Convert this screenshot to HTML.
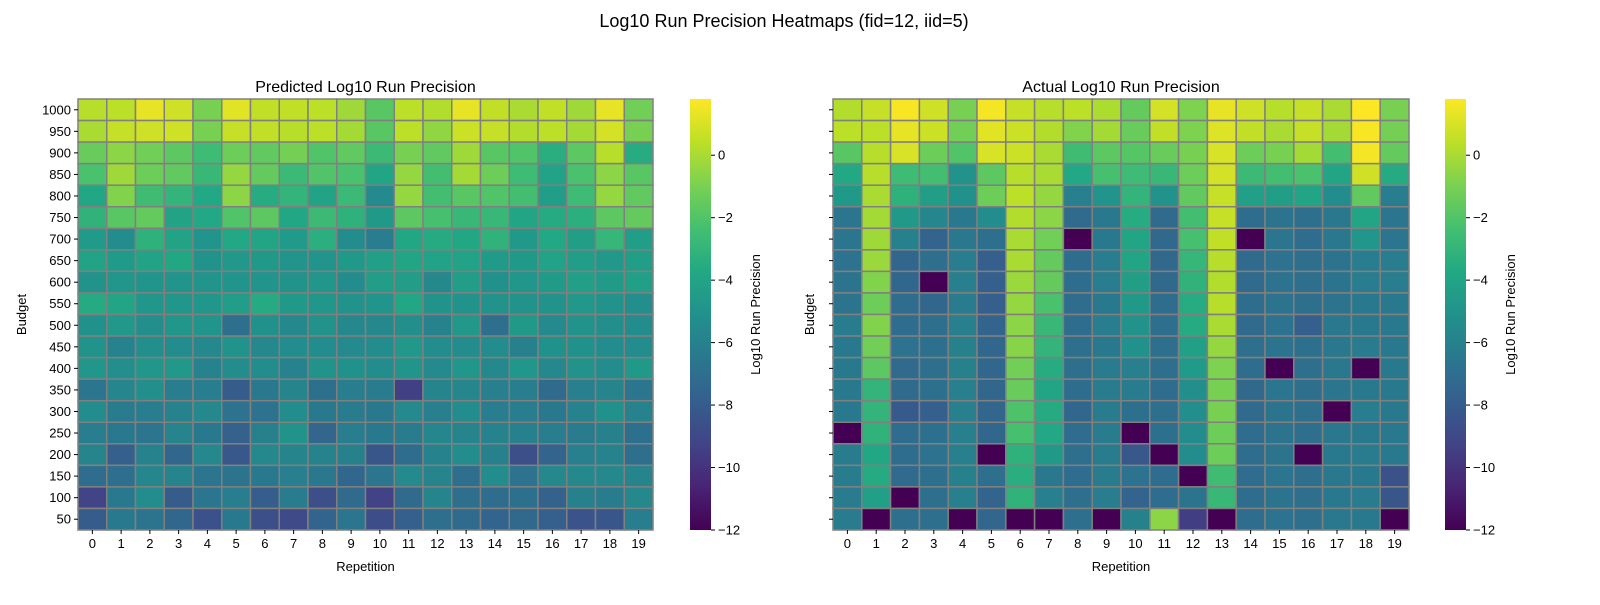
<!DOCTYPE html>
<html><head><meta charset="utf-8"><style>
body{margin:0;background:#fff}
svg text{font-family:"Liberation Sans","DejaVu Sans",sans-serif;fill:#000}
</style></head><body>
<svg id="fig" width="1600" height="600" xmlns="http://www.w3.org/2000/svg">
<text x="784" y="27" font-size="18" text-anchor="middle">Log10 Run Precision Heatmaps (fid=12, iid=5)</text>
</svg>
<script>
const budgets=[1000,950,900,850,800,750,700,650,600,550,500,450,400,350,300,250,200,150,100,50];
const reps=[0,1,2,3,4,5,6,7,8,9,10,11,12,13,14,15,16,17,18,19];
const cbTicks=[0,-2,-4,-6,-8,-10,-12];
const vmin=-12, vmax=1.8;
const predicted=[
[0.3,0.4,1.3,0.8,-1.0,1.2,0.5,0.5,0.4,-0.2,-1.8,0.4,0.2,1.3,0.5,0.0,0.5,-0.2,1.3,-1.2],
[0.0,0.6,0.8,0.8,-1.0,0.6,0.5,0.3,0.4,-0.1,-1.8,0.4,-0.5,0.7,0.6,0.2,0.4,-0.1,0.9,-1.0],
[-1.4,-0.6,-1.2,-1.7,-2.6,-1.3,-1.6,-1.1,-2.0,-1.6,-2.7,-1.0,-1.6,-0.2,-1.8,-2.0,-3.4,-1.7,0.3,-3.5],
[-2.2,-0.2,-1.3,-1.6,-2.8,-0.4,-1.5,-2.7,-2.0,-2.2,-3.9,-0.4,-2.4,-0.1,-1.3,-2.6,-4.1,-2.2,-0.6,-1.8],
[-3.8,-0.8,-2.5,-3.0,-3.7,-0.6,-3.5,-3.0,-4.0,-2.7,-5.5,-0.4,-2.4,-1.8,-2.0,-2.4,-4.4,-2.6,-0.4,-1.6],
[-3.1,-1.8,-1.5,-4.0,-3.7,-2.0,-1.7,-3.8,-2.7,-3.2,-4.6,-1.7,-2.3,-2.8,-2.8,-3.9,-3.6,-3.3,-1.7,-1.5],
[-4.5,-5.3,-3.2,-4.0,-4.9,-3.7,-3.9,-4.5,-3.3,-5.3,-6.2,-3.8,-3.6,-3.8,-3.1,-4.6,-3.7,-4.3,-2.9,-4.4],
[-4.0,-4.5,-4.0,-3.8,-5.0,-4.7,-4.6,-4.9,-4.9,-4.6,-4.2,-3.9,-4.1,-4.1,-4.5,-4.6,-4.1,-4.4,-4.7,-4.4],
[-5.0,-4.8,-4.9,-4.9,-4.9,-4.9,-4.9,-5.0,-4.8,-5.3,-4.4,-4.4,-5.6,-4.4,-5.1,-4.8,-4.5,-4.2,-4.5,-4.2],
[-3.6,-3.9,-4.8,-4.8,-4.8,-4.4,-3.6,-4.6,-4.8,-5.0,-4.9,-3.8,-5.0,-5.0,-5.0,-5.0,-5.0,-4.7,-5.0,-5.2],
[-5.1,-4.7,-5.2,-4.8,-4.9,-7.0,-5.1,-5.6,-5.0,-5.6,-5.6,-5.2,-5.9,-4.7,-7.0,-4.6,-5.5,-5.0,-5.2,-5.4],
[-5.0,-5.9,-5.2,-5.3,-5.6,-5.0,-5.6,-5.3,-5.3,-5.5,-5.4,-4.7,-5.4,-5.4,-5.4,-6.0,-5.1,-5.1,-5.3,-5.4],
[-4.8,-5.2,-4.8,-4.7,-5.9,-5.4,-5.4,-5.9,-5.0,-5.1,-5.4,-4.9,-5.5,-4.8,-5.6,-4.8,-5.6,-5.0,-5.4,-4.6],
[-6.6,-5.7,-5.2,-6.2,-6.2,-8.0,-6.5,-5.8,-6.9,-6.2,-6.3,-9.4,-5.8,-5.7,-6.1,-6.2,-7.2,-6.1,-5.8,-6.6],
[-5.3,-6.3,-6.2,-5.9,-5.6,-6.8,-6.8,-5.4,-6.4,-6.3,-6.4,-5.5,-6.1,-5.4,-6.2,-6.2,-6.4,-5.9,-5.1,-5.9],
[-6.2,-6.4,-6.6,-5.8,-6.4,-7.7,-6.0,-5.0,-7.5,-6.2,-6.4,-6.3,-5.7,-5.8,-5.9,-6.0,-6.2,-6.3,-6.0,-6.9],
[-5.8,-7.8,-5.9,-7.4,-5.6,-8.2,-5.6,-5.8,-5.9,-6.0,-8.3,-7.1,-5.9,-5.4,-6.0,-8.7,-7.6,-6.1,-5.9,-7.0],
[-7.1,-7.0,-5.7,-5.8,-6.6,-6.7,-6.4,-6.1,-6.5,-7.4,-6.6,-5.5,-5.8,-7.0,-5.3,-6.8,-5.6,-5.6,-5.6,-5.8],
[-9.2,-6.4,-5.4,-8.0,-6.6,-6.2,-7.9,-6.3,-8.7,-7.2,-9.3,-7.2,-5.8,-7.0,-7.1,-6.9,-7.7,-6.0,-6.3,-5.6],
[-8.0,-6.4,-6.7,-7.4,-8.6,-6.4,-8.7,-8.9,-7.6,-6.6,-8.8,-7.8,-7.0,-7.2,-7.6,-7.3,-7.8,-8.4,-8.3,-6.2]];
const actual=[
[0.2,0.6,1.7,0.8,-1.0,1.6,0.6,0.3,0.4,0.1,-1.5,0.9,-0.9,1.3,0.8,0.3,0.6,0.0,1.8,-1.0],
[0.4,0.4,1.3,0.7,-1.2,1.2,0.7,0.2,-0.8,-0.1,-1.4,0.5,-0.9,1.1,0.5,0.0,0.6,-0.1,1.7,-1.1],
[-1.8,0.3,1.0,-1.3,-2.0,1.0,0.7,0.0,-2.5,-1.7,-1.9,-1.4,-1.0,1.0,-1.3,-1.0,-0.1,-2.4,1.6,-1.5],
[-3.7,0.3,-2.6,-2.4,-5.0,-1.7,0.3,0.0,-3.7,-2.3,-2.6,-2.8,-1.3,0.9,-2.7,-2.4,-2.2,-3.9,0.8,-3.6],
[-4.6,0.0,-3.2,-4.3,-5.1,-1.3,0.4,-0.4,-6.1,-4.9,-3.0,-5.0,-1.6,0.6,-4.2,-4.3,-3.9,-5.3,-1.6,-6.2],
[-6.6,-0.1,-4.6,-5.7,-6.4,-5.4,0.2,-0.6,-7.2,-6.4,-3.5,-7.2,-2.4,0.6,-7.1,-6.7,-7.0,-6.5,-3.9,-6.6],
[-6.6,-0.2,-6.0,-7.6,-6.5,-6.9,0.0,-1.2,-12,-6.4,-3.9,-7.3,-2.3,0.5,-12,-6.6,-7.1,-6.5,-4.8,-6.6],
[-6.8,-0.3,-7.4,-7.0,-6.2,-7.8,0.0,-1.5,-7.1,-6.2,-3.9,-7.3,-2.9,0.3,-7.2,-6.8,-7.0,-6.7,-6.2,-6.2],
[-6.7,-0.8,-7.4,-12,-6.1,-7.8,-0.3,-1.5,-7.1,-6.2,-4.3,-7.3,-3.1,0.2,-7.2,-6.8,-7.0,-6.7,-6.2,-6.2],
[-6.7,-1.3,-7.1,-7.4,-6.3,-7.8,-0.4,-2.2,-7.1,-6.4,-4.6,-7.1,-3.5,0.3,-7.1,-6.7,-7.0,-6.7,-6.4,-6.4],
[-6.3,-0.8,-7.1,-7.0,-6.1,-7.6,-0.6,-2.8,-7.1,-6.2,-5.0,-7.0,-3.6,0.0,-7.2,-6.8,-7.8,-6.5,-6.4,-6.4],
[-6.4,-1.2,-6.8,-6.9,-6.0,-7.4,-0.7,-3.0,-7.0,-6.4,-5.1,-7.0,-4.2,-0.4,-7.0,-6.7,-6.9,-6.5,-6.3,-6.4],
[-6.4,-1.7,-7.2,-7.0,-6.0,-7.4,-1.2,-3.5,-7.0,-6.3,-6.1,-7.0,-4.5,-0.9,-7.1,-12,-7.0,-6.5,-12,-6.4],
[-6.4,-3.0,-7.2,-6.9,-6.1,-7.5,-1.4,-3.9,-7.1,-6.3,-6.3,-7.1,-5.2,-1.0,-7.3,-6.6,-7.0,-6.6,-6.4,-6.4],
[-6.4,-3.0,-8.1,-7.8,-6.1,-7.5,-2.1,-3.6,-7.4,-6.3,-6.9,-7.0,-5.2,-1.0,-7.2,-6.7,-7.0,-12,-6.2,-6.4],
[-12,-3.1,-7.1,-6.9,-6.1,-7.4,-2.3,-3.7,-7.1,-6.3,-12,-6.9,-5.3,-1.3,-7.1,-6.7,-7.0,-6.5,-6.4,-6.4],
[-6.3,-3.8,-7.1,-6.8,-6.1,-12,-3.2,-4.6,-7.0,-6.3,-8.2,-12,-5.4,-1.3,-7.1,-6.7,-12,-6.4,-6.3,-6.4],
[-6.3,-3.6,-7.2,-6.9,-6.0,-7.0,-3.4,-6.5,-7.1,-6.3,-6.8,-7.1,-12,-2.5,-7.1,-6.6,-7.0,-6.5,-6.4,-8.6],
[-6.3,-4.2,-12,-7.0,-6.1,-7.6,-3.1,-6.1,-7.0,-6.2,-7.6,-7.1,-6.7,-2.8,-7.1,-6.7,-7.0,-6.4,-6.3,-8.3],
[-6.3,-12,-7.0,-7.0,-12,-7.5,-12,-12,-7.0,-12,-6.0,-0.6,-9.5,-12,-7.1,-6.8,-7.0,-6.5,-6.4,-12]];

const VIR=[[68,1,84],[72,36,117],[65,68,135],[53,95,141],[42,120,142],[33,145,140],[34,168,132],[68,191,112],[122,209,81],[189,223,38],[253,231,37]];
function viridis(v){let t=(v-vmin)/(vmax-vmin);t=Math.max(0,Math.min(1,t));const p=t*(VIR.length-1);const i=Math.min(VIR.length-2,Math.floor(p));const f=p-i;
 const c=VIR[i].map((a,k)=>Math.round(a+(VIR[i+1][k]-a)*f));return `rgb(${c[0]},${c[1]},${c[2]})`;}
const NS='http://www.w3.org/2000/svg';
const svg=document.getElementById('fig');
function mk(tag,attrs,parent){const e=document.createElementNS(NS,tag);for(const k in attrs)e.setAttribute(k,attrs[k]);(parent||svg).appendChild(e);return e;}
const Y0=99,Y1=530;
function cbY(v){return Y1-(v-vmin)/(vmax-vmin)*(Y1-Y0);}
function drawPanel(x0,x1,data,title,showY,cbx,key){
 const g=mk('g',{});
 
 
 const cw=(x1-x0)/reps.length,ch=(Y1-Y0)/budgets.length;
 const xs=i=>x0+i*cw, ys=j=>Y0+j*ch;
 budgets.forEach((b,j)=>reps.forEach((r,i)=>{
  const c=mk('rect',{x:xs(i),y:ys(j),width:cw,height:ch,fill:viridis(data[j][i]),stroke:'#808080','stroke-width':1.5},g);
  
  
 }));
 const t=mk('text',{x:(x0+x1)/2,y:92,'font-size':16,'text-anchor':'middle'});t.textContent=title;
 
 
 reps.forEach((r,i)=>{const cx=xs(i)+cw/2;mk('line',{x1:cx,x2:cx,y1:Y1,y2:Y1+4,stroke:'#000'});
  const l=mk('text',{x:cx,y:Y1+18,'font-size':13,'text-anchor':'middle'});l.textContent=r;
  
  });
 budgets.forEach((b,j)=>{const cy=ys(j)+ch/2;mk('line',{x1:x0-4,x2:x0,y1:cy,y2:cy,stroke:'#000'});
  if(showY){const l=mk('text',{x:x0-7,y:cy+4.5,'font-size':13,'text-anchor':'end'});l.textContent=b;
  
  }});
 const xl=mk('text',{x:(x0+x1)/2,y:571,'font-size':13,'text-anchor':'middle'});xl.textContent='Repetition';
 
 
 const yl=mk('text',{x:0,y:0,'font-size':13,'text-anchor':'middle',transform:`translate(${x0-(showY?52:19)},${(Y0+Y1)/2}) rotate(-90)`});yl.textContent='Budget';
 
 
 const defs=mk('defs',{});const gr=mk('linearGradient',{id:'g'+key,x1:0,y1:1,x2:0,y2:0},defs);
 for(let k=0;k<=20;k++){mk('stop',{offset:k/20,'stop-color':viridis(vmin+(vmax-vmin)*k/20)},gr);}
 const cb=mk('rect',{x:cbx,y:Y0,width:21,height:Y1-Y0,fill:`url(#g${key})`});
 
 
 cbTicks.forEach(v=>{const y=cbY(v);mk('line',{x1:cbx+21,x2:cbx+25,y1:y,y2:y,stroke:'#000'});
  const l=mk('text',{x:cbx+28,y:y+4.5,'font-size':13});l.textContent=(v<0?'\u2212'+(-v):v);
  
  });
 const cl=mk('text',{x:0,y:0,'font-size':13,'text-anchor':'middle',transform:`translate(${cbx+70},${(Y0+Y1)/2}) rotate(-90)`});cl.textContent='Log10 Run Precision';
 
 
}
drawPanel(78,653,predicted,'Predicted Log10 Run Precision',true,690,'predicted');
drawPanel(833,1409,actual,'Actual Log10 Run Precision',false,1445,'actual');
</script>
</body></html>
